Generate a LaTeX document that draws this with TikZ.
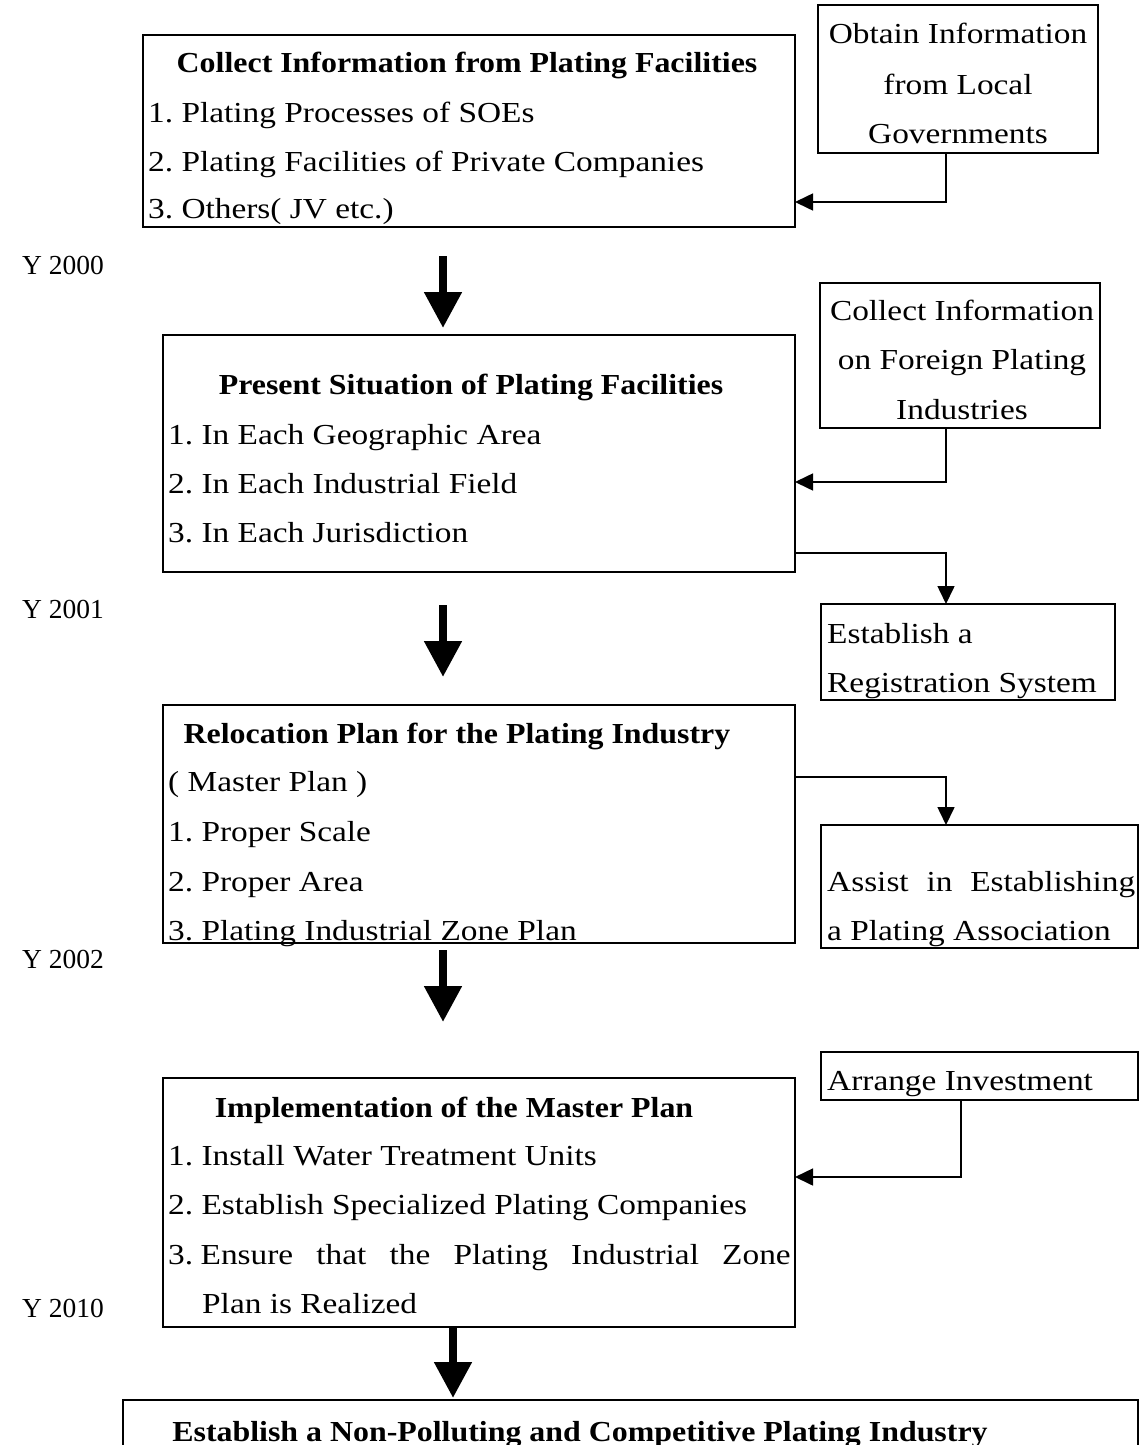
\documentclass[tikz,border=0pt]{standalone}
\usepackage{fontspec}
\setmainfont{Liberation Serif}[FakeStretch=1.15]
\newfontfamily\headfont{Liberation Serif}[FakeStretch=1.10]
\newfontfamily\yearfont{Liberation Serif}
\usetikzlibrary{arrows.meta}
\frenchspacing

\tikzset{
  box/.style={draw, line width=1.6pt, anchor=north west, inner sep=0pt, outer sep=0pt},
  txt/.style={anchor=base west, inner sep=0pt, font=\fontsize{29}{35}\selectfont},
  ctxt/.style={anchor=base, inner sep=0pt, font=\fontsize{29}{35}\selectfont},
  head/.style={anchor=base, inner sep=0pt, font=\headfont\bfseries\fontsize{29}{35}\selectfont},
  year/.style={anchor=base west, inner sep=0pt, font=\yearfont\fontsize{27.5}{30}\selectfont},
  link/.style={line width=1.6pt, -{Triangle[width=17pt,length=18pt]}},
  bigarrow/.style={line width=8pt, -{Triangle[width=36pt,length=36pt]}},
}

\begin{document}
\begin{tikzpicture}[x=1pt,y=-1pt]
\useasboundingbox (0,0) rectangle (1146,1445);

% main stages
\node[box, minimum width=652pt, minimum height=192pt] (collect) at (143,35) {};
\node[box, minimum width=632pt, minimum height=237pt] (present) at (163,335) {};
\node[box, minimum width=632pt, minimum height=238pt] (reloc) at (163,705) {};
\node[box, minimum width=632pt, minimum height=249pt] (impl) at (163,1078) {};
\node[box, minimum width=1015pt, minimum height=80pt] (goal) at (123,1400) {};

% side activities
\node[box, minimum width=280pt, minimum height=148pt] (obtain) at (818,5) {};
\node[box, minimum width=280pt, minimum height=145pt] (foreign) at (820,283) {};
\node[box, minimum width=294pt, minimum height=96pt] (regist) at (821,604) {};
\node[box, minimum width=317pt, minimum height=123pt] (assoc) at (821,825) {};
\node[box, minimum width=317pt, minimum height=48pt] (invest) at (821,1052) {};

% stage 1
\node[head] (collect-h) at (467,72) {Collect Information from Plating Facilities};
\node[txt] (collect-1) at (148,122) {1. Plating Processes of SOEs};
\node[txt] (collect-2) at (148,171) {2. Plating Facilities of Private Companies};
\node[txt] (collect-3) at (148,218) {3. Others( JV etc.)};

\node[ctxt] (obtain-1) at (958,44) {Obtain Information};
\node[ctxt] (obtain-2) at (958,94) {from Local};
\node[ctxt] (obtain-3) at (958,143) {Governments};

\node[year] (y2000) at (22,274) {Y 2000};

% stage 2
\node[head] (present-h) at (471,394) {Present Situation of Plating Facilities};
\node[txt] (present-1) at (168,444) {1. In Each Geographic Area};
\node[txt] (present-2) at (168,493) {2. In Each Industrial Field};
\node[txt] (present-3) at (168,542) {3. In Each Jurisdiction};

\node[ctxt] (foreign-1) at (962,320) {Collect Information};
\node[ctxt] (foreign-2) at (962,369) {on Foreign Plating};
\node[ctxt] (foreign-3) at (962,419) {Industries};

\node[year] (y2001) at (22,618) {Y 2001};

\node[txt] (regist-1) at (827,643) {Establish a};
\node[txt] (regist-2) at (827,692) {Registration System};

% stage 3
\node[head] (reloc-h) at (457,743) {Relocation Plan for the Plating Industry};
\node[txt] (reloc-0) at (168,791) {( Master Plan )};
\node[txt] (reloc-1) at (168,841) {1. Proper Scale};
\node[txt] (reloc-2) at (168,891) {2. Proper Area};
\node[txt] (reloc-3) at (168,940) {3. Plating Industrial Zone Plan};

\node[txt] (assoc-1) at (827,891) {\makebox[308pt][s]{Assist in Establishing}};
\node[txt] (assoc-2) at (827,940) {a Plating Association};

\node[year] (y2002) at (22,968) {Y 2002};

% stage 4
\node[head] (impl-h) at (454,1117) {Implementation of the Master Plan};
\node[txt] (impl-1) at (168,1165) {1. Install Water Treatment Units};
\node[txt] (impl-2) at (168,1214) {2. Establish Specialized Plating Companies};
\node[txt] (impl-3) at (168,1264) {3.\hspace{7.5pt}\makebox[590pt][s]{Ensure that the Plating Industrial Zone}};
\node[txt] (impl-4) at (202,1313) {Plan is Realized};

\node[txt] (invest-1) at (827,1090) {Arrange Investment};

\node[year] (y2010) at (22,1317) {Y 2010};

% goal
\node[head] (goal-h) at (580,1441) {Establish a Non-Polluting and Competitive Plating Industry};

% side connectors
\draw[link] ([xshift=-12pt]obtain.south) |- ([yshift=25pt]collect.south east);
\draw[link] ([xshift=-14pt]foreign.south) |- ([yshift=90pt]present.south east);
\draw[link] ([yshift=19pt]present.south east) -| ([xshift=-22pt]regist.north);
\draw[link] ([yshift=-72pt]reloc.north east) -| ([xshift=-33.5pt]assoc.north);
\draw[link] ([xshift=-18.5pt]invest.south) |- ([yshift=-99pt]impl.north east);

% stage arrows
\draw[bigarrow] ([xshift=-26pt,yshift=-29pt]collect.south) -- ([xshift=-36pt,yshift=7pt]present.north);
\draw[bigarrow] ([xshift=-36pt,yshift=-33pt]present.south) -- ([xshift=-36pt,yshift=28pt]reloc.north);
\draw[bigarrow] ([xshift=-36pt,yshift=-7pt]reloc.south) -- ([xshift=-36pt,yshift=56pt]impl.north);
\draw[bigarrow] ([xshift=-26pt]impl.south) -- ([xshift=-177.5pt,yshift=2pt]goal.north);
\end{tikzpicture}
\end{document}
